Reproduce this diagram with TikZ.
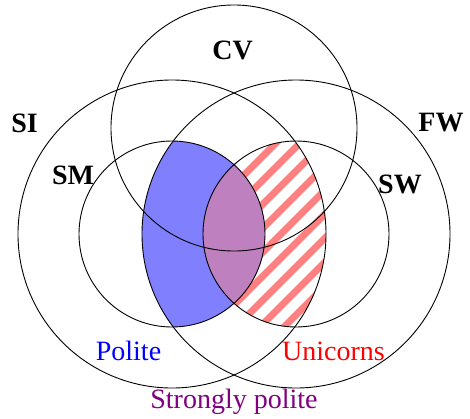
\documentclass[tikz,border=0pt]{standalone}
\usepackage{fontspec}
\setmainfont{Liberation Serif}
\definecolor{txtpurple}{RGB}{128,0,128}
\definecolor{mixfill}{RGB}{191,128,191}
\definecolor{bluefill}{RGB}{128,128,255}
\definecolor{redstripe}{RGB}{255,128,128}
\begin{document}
\begin{tikzpicture}[x=1pt,y=-1pt,
  ring/.style={draw=black,line width=0.9pt},
  setlabel/.style={font=\fontsize{28}{34}\selectfont\bfseries,inner sep=0pt},
  txtlabel/.style={font=\fontsize{28}{34}\selectfont,inner sep=0pt,anchor=base}]
\useasboundingbox (0,0) rectangle (470,418);
\coordinate (cCV) at (234,128);
\coordinate (cL) at (172,234);
\coordinate (cR) at (296,234);
% blue: SM cap FW
\begin{scope}
  \clip (cL) circle (93);
  \fill[bluefill] (cR) circle (154);
\end{scope}
% stripes: SW cap SI
\begin{scope}
  \clip (cR) circle (93);
  \clip (cL) circle (154);
  \foreach \k in {-12,...,12} {
    \draw[redstripe,line width=7pt] ({443+24*\k-80},80) -- ({443+24*\k-360},360);
  }
\end{scope}
% purple: SM cap SW
\begin{scope}
  \clip (cL) circle (93);
  \fill[mixfill] (cR) circle (93);
\end{scope}
\draw[ring] (cCV) circle (123);
\draw[ring] (cL) circle (154);
\draw[ring] (cR) circle (154);
\draw[ring] (cL) circle (93);
\draw[ring] (cR) circle (93);
\node[setlabel] (CV) at (232.5,50) {CV};
\node[setlabel] (SI) at (24.5,123) {SI};
\node[setlabel] (FW) at (441,123) {FW};
\node[setlabel] (SM) at (73,175) {SM};
\node[setlabel] (SW) at (400,184) {SW};
\node[txtlabel,text=blue] (polite) at (128.5,360) {Polite};
\node[txtlabel,text=red] (unicorns) at (333.5,360) {Unicorns};
\node[txtlabel,text=txtpurple] (strong) at (234,408) {Strongly polite};
\end{tikzpicture}
\end{document}
